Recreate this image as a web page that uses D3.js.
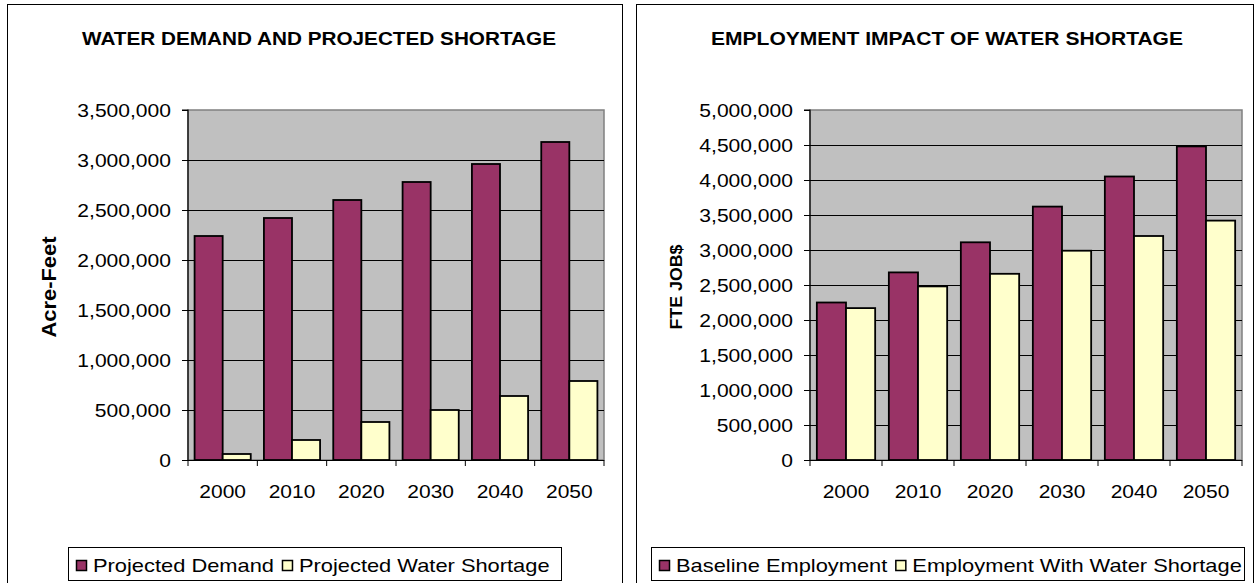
<!DOCTYPE html>
<html><head><meta charset="utf-8">
<script src="https://cdn.jsdelivr.net/npm/d3@7"></script>
<style>
html,body{margin:0;padding:0;background:#fff;}
svg text{font-family:"Liberation Sans",Arial,sans-serif;fill:#000;}
</style></head>
<body>
<svg id="c" width="1259" height="583"></svg>
<script>
const years = ["2000","2010","2020","2030","2040","2050"];
const demand = [2240000, 2420000, 2600000, 2780000, 2960000, 3180000];
const shortage = [60000, 200000, 380000, 500000, 640000, 790000];
const baselineEmp = [2250000, 2680000, 3110000, 3620000, 4050000, 4480000];
const empWithShortage = [2170000, 2480000, 2660000, 2990000, 3200000, 3420000];
const leftTicks = [0,500000,1000000,1500000,2000000,2500000,3000000,3500000];
const rightTicks = [0,500000,1000000,1500000,2000000,2500000,3000000,3500000,4000000,4500000,5000000];
const colors = ["#993366","#FFFFCC"];
const SX = 1.17;

const svg = d3.select("#c");
const fmt = d3.format(",");

function stretch(sel, f){
  sel.each(function(){ const w=this.getComputedTextLength(); this.setAttribute("textLength", w*f); this.setAttribute("lengthAdjust","spacingAndGlyphs"); });
  return sel;
}

function chart(cfg){
  const g = svg.append("g");
  g.append("rect").attr("x",cfg.px).attr("y",4.5).attr("width",cfg.pw).attr("height",640)
    .attr("fill","#fff").attr("stroke","#000").attr("stroke-width",1);
  g.append("text").attr("x",cfg.titleX).attr("y",45).attr("text-anchor","middle")
    .attr("font-size",19).attr("font-weight","bold").text(cfg.title)
    .attr("textLength",cfg.titleW).attr("lengthAdjust","spacingAndGlyphs");
  const x = d3.scaleBand().domain(years).range([cfg.x0,cfg.x1]).paddingInner(0.19).paddingOuter(0.095);
  const xs = d3.scaleBand().domain([0,1]).range([0,x.bandwidth()]);
  const y = d3.scaleLinear().domain([0,cfg.max]).range([460,110]);
  g.append("rect").attr("x",cfg.x0).attr("y",y(cfg.max)).attr("width",cfg.x1-cfg.x0).attr("height",y(0)-y(cfg.max))
    .attr("fill","#C0C0C0").attr("stroke","#808080").attr("stroke-width",1.5);
  g.selectAll(".grid").data(cfg.ticks.filter(t=>t>0 && t<cfg.max)).join("line")
    .attr("x1",cfg.x0).attr("x2",cfg.x1).attr("y1",d=>Math.round(y(d))+0.5).attr("y2",d=>Math.round(y(d))+0.5)
    .attr("stroke","#000").attr("stroke-width",1);
  const series=[cfg.a,cfg.b];
  years.forEach((yr,i)=>{
    series.forEach((s,k)=>{
      g.append("rect").attr("x",x(yr)+xs(k)).attr("y",y(s[i])).attr("width",xs.bandwidth()).attr("height",y(0)-y(s[i]))
        .attr("fill",colors[k]).attr("stroke","#000").attr("stroke-width",1.8);
    });
  });
  const ya = d3.axisLeft(y).tickValues(cfg.ticks).tickSize(6).tickPadding(11).tickFormat(fmt);
  const yg = g.append("g").attr("transform",`translate(${cfg.x0},0)`).call(ya);
  yg.select(".domain").attr("stroke","#000").attr("stroke-width",1.2).attr("d",`M-6,${y(cfg.max)}H0V${y(0)}`);
  yg.selectAll("line").attr("stroke","#000");
  yg.selectAll("text").attr("font-size",18).attr("fill","#000").attr("dy","0.35em").call(s=>stretch(s,SX));
  const xa = g.append("g");
  xa.append("line").attr("x1",cfg.x0).attr("x2",cfg.x1).attr("y1",460.5).attr("y2",460.5).attr("stroke","#000").attr("stroke-width",1.2);
  const bounds = years.map(yr=>x(yr)-x.step()*x.paddingInner()/2).concat([cfg.x1]);
  xa.selectAll(".bt").data(bounds).join("line").attr("x1",d=>d).attr("x2",d=>d).attr("y1",460).attr("y2",466).attr("stroke","#000");
  xa.selectAll(".xl").data(years).join("text").attr("x",d=>x(d)+x.bandwidth()/2).attr("y",492).attr("dy","0.35em")
    .attr("text-anchor","middle").attr("font-size",18.5).text(d=>d).call(s=>stretch(s,SX*0.97));
  g.append("text").attr("transform",`translate(${cfg.ytX},287) rotate(-90)`).attr("text-anchor","middle").attr("dy","0.35em")
    .attr("font-size",cfg.ytSize).attr("font-weight","bold").text(cfg.yTitle)
    .attr("textLength",cfg.ytLen).attr("lengthAdjust","spacingAndGlyphs");
  const lg = g.append("g");
  lg.append("rect").attr("x",cfg.lx0+0.5).attr("y",547.5).attr("width",cfg.lx1-cfg.lx0).attr("height",33).attr("fill","#fff").attr("stroke","#000");
  let cx = cfg.lx0+8;
  cfg.names.forEach((n,k)=>{
    lg.append("rect").attr("x",cx+0.5).attr("y",560.5).attr("width",10).attr("height",10).attr("fill",colors[k]).attr("stroke","#000").attr("stroke-width",1.5);
    cx += 10+7;
    const t = lg.append("text").attr("x",cx).attr("y",565).attr("dy","0.35em").attr("font-size",19).text(n);
    const w = t.node().getComputedTextLength()*cfg.lsx;
    t.attr("textLength",w).attr("lengthAdjust","spacingAndGlyphs");
    cx += w+8;
  });
}

chart({px:7.5,pw:615,title:"WATER DEMAND AND PROJECTED SHORTAGE",titleX:319,titleW:474,
  x0:188,x1:604,max:3500000,ticks:leftTicks,a:demand,b:shortage,
  yTitle:"Acre-Feet",ytX:49,ytSize:20,ytLen:101,lx0:68,lx1:561,lsx:1.15,
  names:["Projected Demand","Projected Water Shortage"]});
chart({px:636.5,pw:617,title:"EMPLOYMENT IMPACT OF WATER SHORTAGE",titleX:947,titleW:472,
  x0:810,x1:1242,max:5000000,ticks:rightTicks,a:baselineEmp,b:empWithShortage,
  yTitle:"FTE JOB$",ytX:676,ytSize:16,ytLen:85,lx0:651,lx1:1244,lsx:1.15,
  names:["Baseline Employment","Employment With Water Shortage"]});
</script>
</body></html>
